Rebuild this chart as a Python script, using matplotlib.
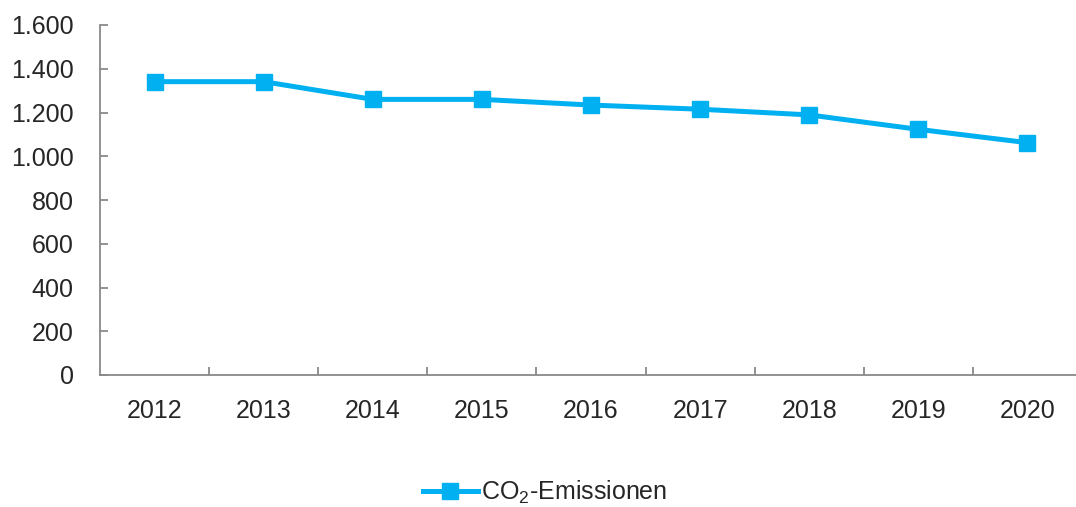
import matplotlib
matplotlib.use("Agg")
import matplotlib.pyplot as plt
from matplotlib.ticker import FuncFormatter, FixedLocator

years = ["2012", "2013", "2014", "2015", "2016", "2017", "2018", "2019", "2020"]
emissions = [1341, 1341, 1260, 1260, 1234, 1215, 1189, 1123, 1062]
yticks = [0, 200, 400, 600, 800, 1000, 1200, 1400, 1600]

LINE = "#00B0F0"
AXIS = "#898989"
TEXT = "#262626"

plt.rcParams["font.family"] = ["Liberation Sans", "DejaVu Sans"]
plt.rcParams["mathtext.fontset"] = "custom"
plt.rcParams["mathtext.rm"] = "Liberation Sans"

fig = plt.figure(figsize=(10.76, 5.07), dpi=100)
# axes runs a bit past the right edge, like the source
ax = fig.add_axes([100/1076, 132/507, 982/1076, 350/507])

x = list(range(len(years)))
ax.plot(x, emissions, color=LINE, lw=3.6, marker="s", ms=12,
        solid_joinstyle="round", label="CO$_{\\mathregular{2}}$-Emissionen")

ax.set_xlim(-0.5, len(years) - 0.5)
ax.set_ylim(0, 1600)
ax.set_yticks(yticks)
ax.yaxis.set_major_formatter(FuncFormatter(lambda v, p: f"{int(v):,}".replace(",", ".")))

ax.set_xticks(x)
ax.set_xticklabels(years)
ax.xaxis.set_minor_locator(FixedLocator([i + 0.5 for i in range(len(years))]))

for s in ["top", "right"]:
    ax.spines[s].set_visible(False)
for s in ["left", "bottom"]:
    ax.spines[s].set_color(AXIS)
    ax.spines[s].set_linewidth(1.3)

ax.tick_params(axis="y", direction="in", length=6, width=1.3, color=AXIS,
               labelsize=18, labelcolor=TEXT, pad=19)
ax.tick_params(axis="x", which="major", length=0, labelsize=18,
               labelcolor=TEXT, pad=17)
ax.tick_params(axis="x", which="minor", direction="in", length=6, width=1.3,
               color=AXIS)

fig.legend(loc="center", bbox_to_anchor=(545/1076, 1 - 492/507), frameon=False,
           fontsize=18, labelcolor=TEXT, handlelength=2.2, handletextpad=0.15)

fig.savefig("out.png", dpi=100)
